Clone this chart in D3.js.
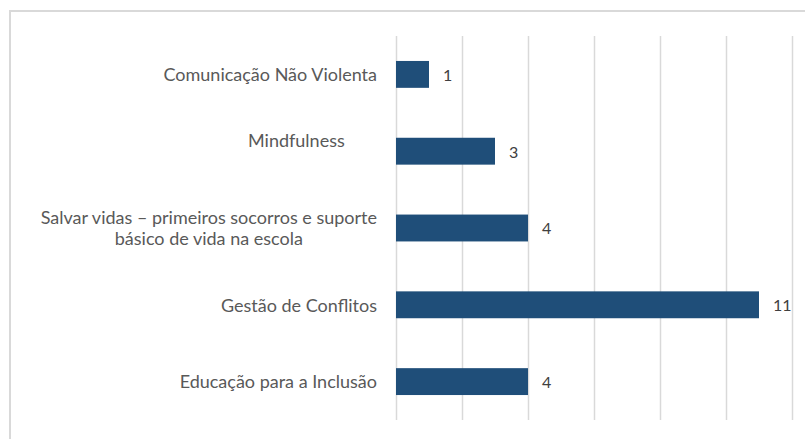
<!DOCTYPE html>
<meta charset="utf-8">
<style>
  body { margin: 0; background: #fff; }
  text { font-family: Lato, "Open Sans", sans-serif; }
</style>
<body>
<svg width="805" height="439"></svg>

<script src="https://cdn.jsdelivr.net/npm/d3@7/dist/d3.min.js"></script>
<script>

// chart values
var categories = [
  "Comunicação Não Violenta",
  "Mindfulness       | ",
  "Salvar vidas – primeiros socorros e suporte|básico de vida na escola",
  "Gestão de Conflitos",
  "Educação para a Inclusão"
];
var values = [1, 3, 4, 11, 4];
var xTicks = [0, 2, 4, 6, 8, 10, 12];

var svg = d3.select("svg");

// outer frame (runs off the right / bottom edge)
svg.append("rect")
  .attr("x", 10).attr("y", 11)
  .attr("width", 820).attr("height", 460)
  .attr("fill", "none")
  .attr("stroke", "#d9d9d9")
  .attr("stroke-width", 2);

var x = d3.scaleLinear().domain([0, 12]).range([396, 792]);
var y = d3.scaleBand().domain(d3.range(categories.length)).range([36, 420])
  .paddingInner(0.65).paddingOuter(0.325);

// vertical gridlines
svg.append("g")
  .attr("transform", "translate(0,420)")
  .call(d3.axisBottom(x).tickValues(xTicks).tickSize(-384).tickFormat(""))
  .call(function(g) {
    g.select(".domain").remove();
    g.selectAll(".tick line").attr("stroke", "#d9d9d9").attr("stroke-width", 1.5);
  });

// bars
svg.append("g").selectAll("rect")
  .data(values)
  .join("rect")
  .attr("x", x(0))
  .attr("y", function(d, i) { return y(i); })
  .attr("width", function(d) { return x(d) - x(0); })
  .attr("height", y.bandwidth())
  .attr("fill", "#1f4e79");

// value labels
svg.append("g").selectAll("text")
  .data(values)
  .join("text")
  .attr("x", function(d) { return x(d) + 14; })
  .attr("y", function(d, i) { return y(i) + y.bandwidth() / 2; })
  .attr("dy", "0.4em")
  .attr("font-size", 16)
  .attr("fill", "#404040")
  .text(function(d) { return d; });

// category labels, multi-line ones centred on their block
var labelRight = 377;
var lab = svg.append("g").selectAll("text")
  .data(categories)
  .join("text")
  .attr("font-size", 18)
  .attr("fill", "#595959")
  .style("white-space", "pre")
  .attr("y", function(d, i) { return y(i) + y.bandwidth() / 2; });

lab.each(function(d) {
  var t = d3.select(this);
  var lines = d.split("|");
  var n = lines.length;
  lines.forEach(function(l, k) {
    t.append("tspan").attr("x", 0).attr("dy", k === 0 ? (0.38 - (n - 1) * 0.62) + "em" : "1.18em").text(l);
  });
  // widest line defines the block; centre the lines inside it
  var widths = [];
  t.selectAll("tspan").each(function() { widths.push(this.getComputedTextLength()); });
  var w = d3.max(widths);
  t.selectAll("tspan")
    .attr("x", labelRight - w / 2)
    .attr("text-anchor", "middle");
});

</script>
</body>
